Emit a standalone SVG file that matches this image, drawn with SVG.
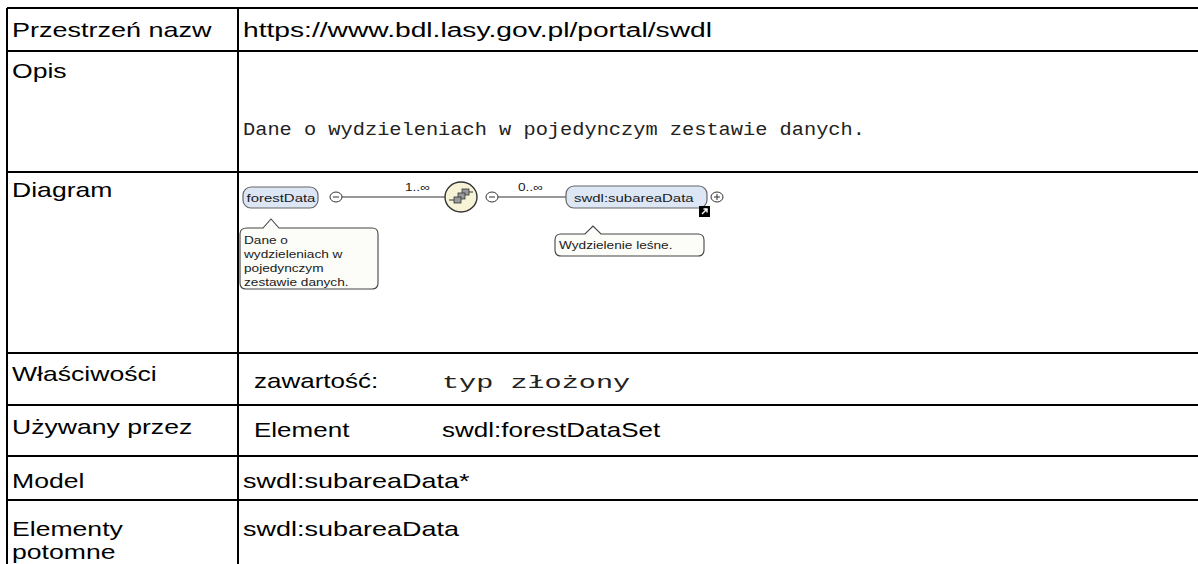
<svg xmlns="http://www.w3.org/2000/svg" width="1198" height="564" viewBox="0 0 1198 564">
<defs>
<style>
.lbl{font-family:"Liberation Sans",Arial,sans-serif;font-size:20px;fill:#000}
.mono{font-family:"Liberation Mono","Courier New",monospace;font-size:18px;fill:#222}
.mono2{font-family:"Liberation Mono","Courier New",monospace;font-size:19px;fill:#222}
.grid{stroke:#000;stroke-width:2;fill:none}
.node{fill:#dde6f5;stroke:#666;stroke-width:1.2}
.small{font-family:"Liberation Sans",Arial,sans-serif;font-size:11.5px;fill:#1a1a1a}
.tiny{font-family:"Liberation Sans",Arial,sans-serif;font-size:10.5px;fill:#1a1a1a}
.bubble{fill:#fcfcf8;stroke:#444;stroke-width:1.1}
.conn{stroke:#333;stroke-width:1.2;fill:none}
.pm{fill:#fff;stroke:#333;stroke-width:1}
</style>
</defs>
<rect width="1198" height="564" fill="#fff"/>
<g id="table">
<path class="grid" d="M7 8H1198M7 51H1198M7 172H1198M7 353H1198M7 405H1198M7 456H1198M7 500H1198M7 8V564M238 8V564"/>
<text class="lbl" transform="translate(12 37) scale(1.35 1)">Przestrzeń nazw</text>
<text class="lbl" transform="translate(243 37) scale(1.41 1)">https://www.bdl.lasy.gov.pl/portal/swdl</text>
<text class="lbl" transform="translate(12 78) scale(1.33 1)">Opis</text>
<text class="mono" transform="translate(243 135) scale(1.13 1)">Dane o wydzieleniach w pojedynczym zestawie danych.</text>
<text class="lbl" transform="translate(12 197) scale(1.33 1)">Diagram</text>
<text class="lbl" transform="translate(12 381) scale(1.33 1)">Właściwości</text>
<text class="lbl" transform="translate(254 388) scale(1.3 1)">zawartość:</text>
<text class="mono2" transform="translate(442 388) scale(1.5 1)">typ złożony</text>
<text class="lbl" transform="translate(12 434) scale(1.33 1)">Używany przez</text>
<text class="lbl" transform="translate(254 437) scale(1.3 1)">Element</text>
<text class="lbl" transform="translate(442 437) scale(1.3 1)">swdl:forestDataSet</text>
<text class="lbl" transform="translate(12 488) scale(1.33 1)">Model</text>
<text class="lbl" transform="translate(243 488) scale(1.35 1)">swdl:subareaData*</text>
<text class="lbl" transform="translate(12 536) scale(1.33 1)">Elementy</text>
<text class="lbl" transform="translate(12 559) scale(1.33 1)">potomne</text>
<text class="lbl" transform="translate(243 536) scale(1.35 1)">swdl:subareaData</text>
</g>
<g id="connectors">
<line class="conn" x1="342" y1="197" x2="446" y2="197"/>
<line class="conn" x1="498" y1="197" x2="566" y2="197"/>
<text class="tiny" transform="translate(405 191) scale(1.3 1)">1..∞</text>
<text class="tiny" transform="translate(518 191) scale(1.3 1)">0..∞</text>
</g>
<g id="forestData">
<rect class="node" x="243" y="187" width="75" height="21" rx="8"/>
<text class="small" transform="translate(246.5 202) scale(1.3 1)">forestData</text>
<ellipse class="pm" cx="336" cy="197" rx="6" ry="5"/>
<line x1="333" y1="197" x2="339" y2="197" stroke="#333" stroke-width="1"/>
<path class="bubble" d="M247 228H263L271 219L279 228H372Q378 228 378 234V283Q378 289 372 289H246Q240 289 240 283V234Q240 228 247 228Z"/>
<text class="tiny" transform="translate(244 244) scale(1.3 1)">Dane o</text>
<text class="tiny" transform="translate(244 258) scale(1.3 1)">wydzieleniach w</text>
<text class="tiny" transform="translate(244 272) scale(1.3 1)">pojedynczym</text>
<text class="tiny" transform="translate(244 286) scale(1.3 1)">zestawie danych.</text>
</g>
<g id="sequence">
<ellipse cx="461" cy="197" rx="16" ry="15" fill="#f7f3d7" stroke="#333" stroke-width="1.4"/>
<rect x="462" y="189" width="7" height="6" fill="#999" stroke="#333" stroke-width="0.8"/>
<rect x="458" y="193" width="7" height="6" fill="#999" stroke="#333" stroke-width="0.8"/>
<rect x="454" y="197" width="7" height="6" fill="#999" stroke="#333" stroke-width="0.8"/>
<line x1="449" y1="200" x2="454" y2="200" stroke="#333" stroke-width="1"/>
<line x1="469" y1="192" x2="473" y2="192" stroke="#333" stroke-width="1"/>
<ellipse class="pm" cx="492" cy="197" rx="6" ry="5"/>
<line x1="489" y1="197" x2="495" y2="197" stroke="#333" stroke-width="1"/>
</g>
<g id="subareaData">
<rect class="node" x="566" y="186" width="141" height="22" rx="8"/>
<text class="small" transform="translate(574 202) scale(1.3 1)">swdl:subareaData</text>
<rect x="699" y="206" width="11" height="11" fill="#000"/>
<path d="M702 214L707 209M703.5 209H707V212.5" stroke="#fff" stroke-width="1.4" fill="none"/>
<ellipse class="pm" cx="717" cy="197" rx="6" ry="5"/>
<path d="M714 197H720M717 194V200" stroke="#333" stroke-width="1"/>
<path class="bubble" d="M561 234H585L593 226L601 234H698Q704 234 704 240V250Q704 256 698 256H561Q555 256 555 250V240Q555 234 561 234Z"/>
<text class="tiny" transform="translate(559 249) scale(1.3 1)">Wydzielenie leśne.</text>
</g>
</svg>
